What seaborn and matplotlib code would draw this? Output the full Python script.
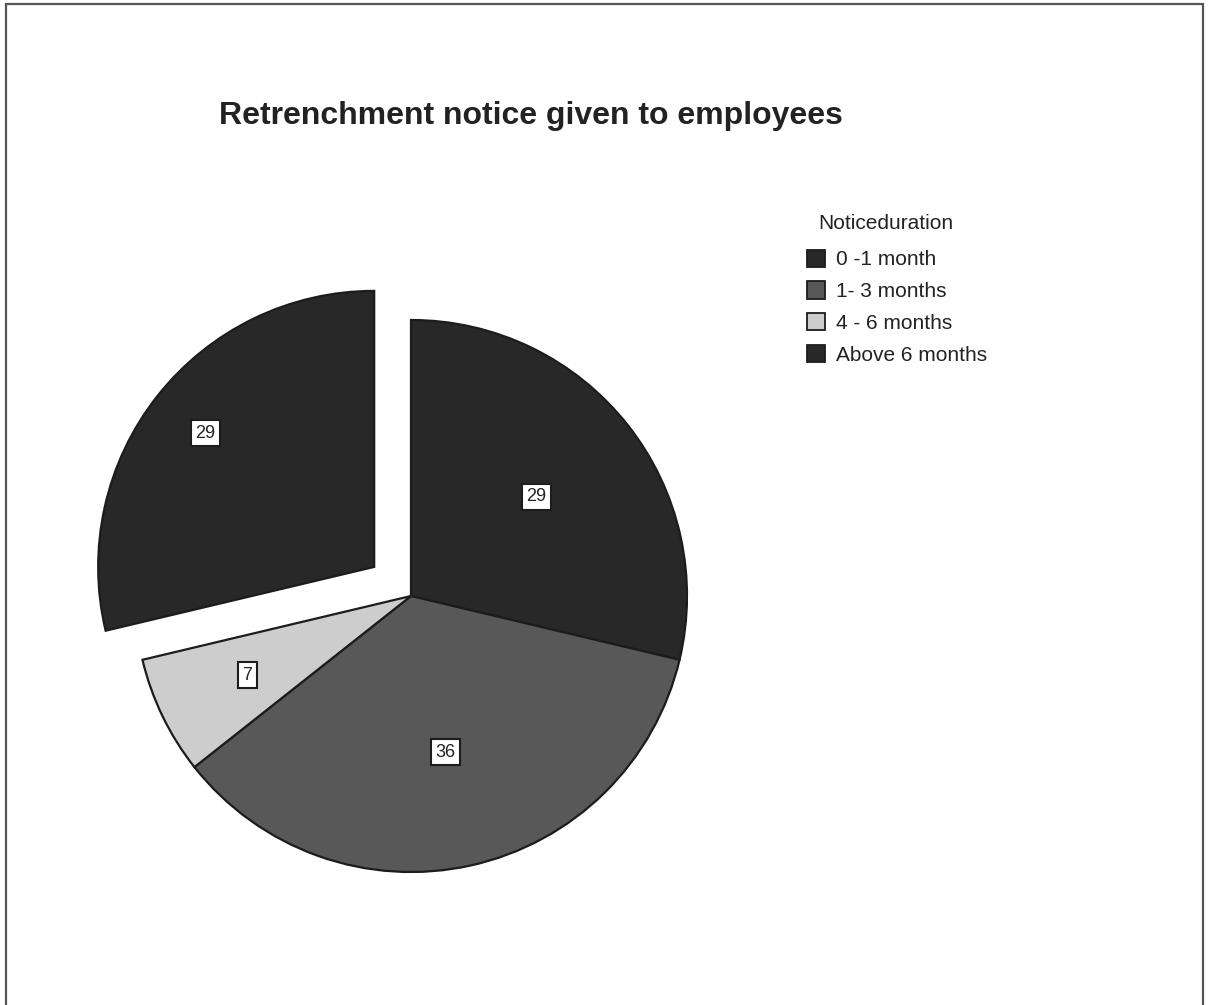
import matplotlib
matplotlib.use("Agg")
import matplotlib.pyplot as plt
from matplotlib.patches import Patch, Rectangle
import numpy as np
import seaborn as sns

# ---- data ----
categories = ["0 -1 month", "1- 3 months", "4 - 6 months", "Above 6 months"]
values = [29, 36, 7, 29]
legend_title = "Noticeduration"
chart_title = "Retrenchment notice given to employees"

# ---- style ----
sns.set_theme(style="white")
plt.rcParams["font.family"] = ["Liberation Sans", "DejaVu Sans"]

colors = ["#282828", "#585858", "#cdcdcd", "#282828"]
explode = [0, 0, 0, 0.17]
label_frac = [0.58, 0.58, 0.66, 0.78]

W, H = 1209, 1005
fig = plt.figure(figsize=(W / 100, H / 100), dpi=100)
fig.patch.set_facecolor("white")

# pie axes: centre at (411, 596) px, radius 276 px
R = 276.0
cx, cy = 411.0, 596.0
lim = 1.4
size = 2 * lim * R
ax = fig.add_axes([(cx - size / 2) / W, (H - cy - size / 2) / H, size / W, size / H])

wedges, _ = ax.pie(
    values,
    colors=colors,
    explode=explode,
    startangle=90,
    counterclock=False,
    radius=1.0,
    wedgeprops=dict(edgecolor="#1c1c1c", linewidth=1.6),
)
ax.set_xlim(-lim, lim)
ax.set_ylim(-lim, lim)
ax.set_aspect("equal")
ax.axis("off")

for w, v, f in zip(wedges, values, label_frac):
    mid = np.deg2rad((w.theta1 + w.theta2) / 2)
    x0, y0 = w.center
    ax.text(x0 + f * w.r * np.cos(mid), y0 + f * w.r * np.sin(mid), str(v),
            ha="center", va="center", fontsize=13, color="#222222",
            bbox=dict(boxstyle="square,pad=0.25", facecolor="white",
                      edgecolor="#1c1c1c", linewidth=1.5))

# title
fig.text(531 / W, 1 - 116 / H, chart_title, ha="center", va="center",
         fontsize=23, fontweight="bold", color="#222222")

# legend title (indented as in the original)
fig.text(818 / W, 1 - 223 / H, legend_title, ha="left", va="center",
         fontsize=15, color="#222222")

# legend
handles = [Patch(facecolor=c, edgecolor="#1c1c1c", linewidth=1.3) for c in colors]
leg = fig.legend(handles, categories,
                 loc="upper left", bbox_to_anchor=(792 / W, 1 - 235 / H),
                 frameon=False, fontsize=15,
                 handlelength=0.9, handleheight=0.9, handletextpad=0.5,
                 labelspacing=0.57, borderpad=0.2)
for t in leg.get_texts():
    t.set_color("#222222")

# page border
fig.patches.append(Rectangle((6 / W, -0.02), 1197 / W, (H - 4) / H + 0.02,
                             transform=fig.transFigure, fill=False,
                             edgecolor="#555555", linewidth=1.6))

fig.savefig("out.png", dpi=100, facecolor="white")
